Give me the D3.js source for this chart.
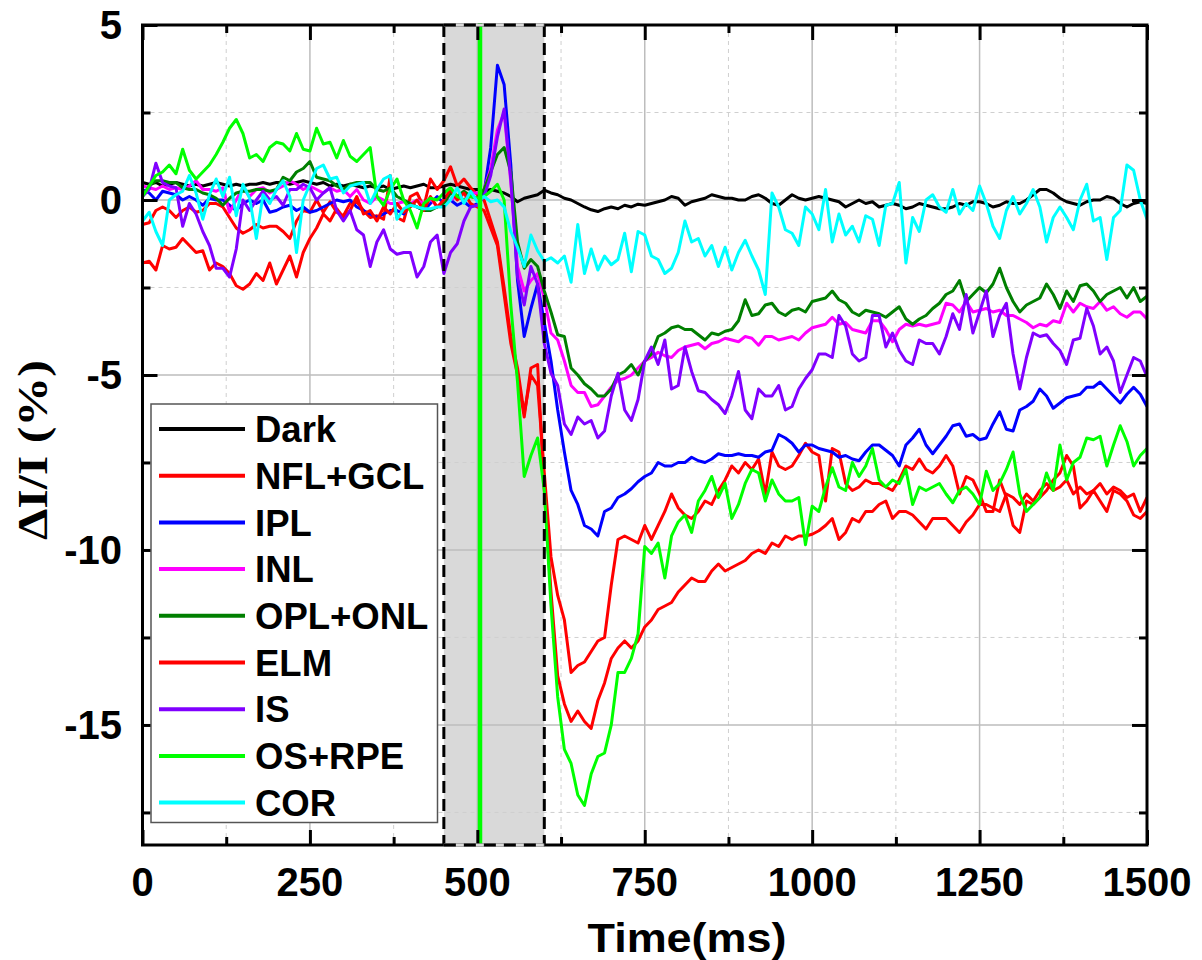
<!DOCTYPE html>
<html><head><meta charset="utf-8">
<script src="https://cdn.jsdelivr.net/npm/d3@7"></script>
<style>body{margin:0;background:#fff}</style>
</head><body><svg id="c" width="1202" height="960"></svg>
<script>
// ---------- data ----------
const timeMs = d3.range(0, 1501, 10);
const seriesNames = ["Dark","NFL+GCL","IPL","INL","OPL+ONL","ELM","IS","OS+RPE","COR"];
const dark = [0.5,0.45,0.5,0.4,0.45,0.5,0.45,0.4,0.45,0.4,
0.45,0.5,0.45,0.4,0.45,0.4,0.45,0.45,0.5,0.45,
0.5,0.5,0.45,0.5,0.55,0.5,0.45,0.5,0.4,0.45,
0.4,0.45,0.4,0.35,0.4,0.35,0.4,0.3,0.35,0.4,
0.35,0.4,0.45,0.35,0.35,0.4,0.45,0.4,0.35,0.3,
0.3,0.25,0.3,0.25,0.2,0.1,-0.05,0.05,0.1,0.15,
0.28,0.2,0.15,0.05,0.0,-0.1,-0.2,-0.28,-0.33,-0.25,
-0.2,-0.25,-0.15,-0.2,-0.12,-0.15,-0.1,-0.05,0.0,0.1,
0.05,-0.15,-0.05,0.0,0.05,0.15,0.1,0.05,0.05,0.0,
0.0,0.1,0.15,0.05,-0.1,-0.15,0.0,0.15,0.05,0.0,
0.05,0.1,0.05,0.0,-0.05,-0.2,-0.1,0.0,-0.1,-0.05,
-0.2,-0.15,-0.1,-0.15,-0.25,-0.2,-0.1,-0.15,-0.2,-0.25,
-0.25,-0.2,-0.1,-0.15,-0.05,-0.05,-0.1,-0.2,-0.15,-0.05,
-0.1,-0.1,0.0,0.15,0.3,0.3,0.2,0.05,-0.05,-0.1,
-0.15,-0.05,0.0,0.0,0.1,0.05,-0.1,-0.2,-0.1,-0.05,
-0.1];
const nflGcl = [-0.7,-0.65,-0.3,-0.2,-0.3,-0.5,-0.3,-0.2,-0.35,-0.3,
-0.1,-0.1,-0.2,-0.5,-0.8,-0.95,-0.85,-0.7,-0.8,-0.75,
-0.75,-0.9,-1.1,-0.6,-0.3,-0.35,0.0,-0.35,-0.05,-0.35,
-0.45,-0.1,-0.05,-0.3,-0.5,-0.45,-0.55,0.7,-0.5,-0.6,
0.1,0.2,-0.2,0.6,0.3,0.55,0.95,0.4,0.6,0.35,
0.15,0.0,-0.6,-1.2,-2.5,-3.9,-4.8,-6.1,-5.0,-5.3,
-7.8,-10.2,-11.3,-12.0,-13.5,-13.3,-13.2,-12.9,-12.6,-12.5,
-11.0,-9.7,-9.6,-9.7,-9.8,-9.3,-9.7,-9.3,-8.9,-8.4,
-8.8,-9.0,-9.1,-8.9,-8.6,-8.7,-8.3,-8.0,-7.6,-7.8,
-7.5,-7.7,-7.4,-8.4,-7.2,-7.6,-7.7,-7.6,-7.3,-6.95,
-7.2,-7.3,-8.6,-7.1,-7.2,-8.1,-8.3,-8.2,-8.0,-8.1,
-8.1,-8.2,-8.3,-8.0,-7.6,-7.7,-7.4,-7.7,-7.8,-7.6,
-7.3,-7.6,-8.4,-7.9,-8.0,-8.4,-8.9,-8.9,-8.0,-8.5,
-9.3,-9.5,-8.6,-8.7,-8.5,-8.3,-8.0,-7.8,-7.3,-7.6,
-8.8,-8.6,-8.3,-8.6,-8.9,-8.3,-8.4,-8.6,-9.0,-9.1,
-8.9];
const ipl = [0.3,0.2,0.0,0.25,0.2,0.15,0.0,0.1,0.0,-0.15,
0.05,0.0,0.0,-0.15,-0.3,-0.1,0.0,-0.1,0.0,-0.35,
-0.3,-0.2,-0.15,-0.3,-0.2,-0.35,-0.3,-0.2,-0.1,0.0,
-0.05,0.0,-0.2,-0.3,-0.4,-0.5,-0.4,-0.3,-0.3,-0.4,
-0.1,-0.2,-0.3,-0.1,0.1,-0.1,0.0,-0.15,-0.05,-0.2,
-0.1,0.2,1.5,3.85,3.3,1.0,-2.3,-3.9,-3.1,-2.4,
-3.5,-4.6,-6.0,-7.2,-8.3,-8.7,-9.3,-9.4,-9.6,-8.9,
-8.8,-8.5,-8.4,-8.25,-8.05,-7.9,-7.8,-7.5,-7.6,-7.6,
-7.5,-7.5,-7.35,-7.45,-7.5,-7.4,-7.25,-7.3,-7.3,-7.25,
-7.3,-7.3,-7.35,-7.2,-7.15,-6.7,-6.8,-6.95,-7.2,-7.0,
-7.0,-7.1,-7.15,-7.2,-7.35,-7.3,-7.4,-7.45,-7.2,-7.0,
-7.0,-7.15,-7.3,-7.6,-7.0,-6.8,-6.55,-7.0,-7.25,-7.0,
-6.75,-6.45,-6.4,-6.75,-6.7,-6.85,-6.8,-6.4,-6.05,-6.55,
-6.6,-6.0,-5.9,-5.75,-5.4,-5.6,-5.95,-5.8,-5.65,-5.6,
-5.55,-5.35,-5.35,-5.2,-5.4,-5.6,-5.8,-5.55,-5.35,-5.55,
-5.9];
const inl = [0.4,0.35,0.3,0.4,0.3,0.35,0.3,0.4,0.55,0.3,
0.3,0.25,0.35,-0.35,0.0,0.35,0.1,0.3,0.35,0.2,
0.3,0.4,0.55,0.45,0.3,0.4,0.3,0.2,0.35,0.25,
0.3,0.1,0.3,0.0,-0.1,0.1,0.0,-0.1,-0.1,-0.05,
-0.1,0.0,-0.1,0.05,-0.2,-0.1,0.0,0.1,0.0,0.2,
0.2,0.3,0.9,2.0,2.5,0.5,-1.9,-2.6,-2.3,-2.1,
-2.8,-3.8,-4.0,-4.6,-5.3,-5.5,-5.5,-5.9,-5.85,-5.6,
-5.35,-5.15,-5.1,-5.0,-4.8,-4.6,-4.5,-4.35,-4.45,-4.5,
-4.3,-4.2,-4.15,-4.1,-4.25,-4.1,-4.05,-3.95,-4.0,-4.05,
-3.9,-3.95,-4.15,-3.9,-3.9,-4.0,-3.95,-3.9,-4.0,-3.8,
-3.65,-3.6,-3.55,-3.35,-3.55,-3.5,-3.7,-3.75,-3.8,-3.45,
-3.45,-3.7,-4.05,-3.7,-3.55,-3.6,-3.55,-3.6,-3.55,-3.5,
-2.95,-3.0,-3.2,-2.9,-3.2,-3.15,-3.1,-3.2,-3.15,-3.3,
-3.3,-3.4,-3.5,-3.65,-3.55,-3.6,-3.45,-3.5,-2.95,-3.2,
-2.95,-3.05,-3.1,-2.9,-3.15,-3.05,-3.25,-3.35,-3.2,-3.2,
-3.4];
const oplOnl = [0.1,0.4,0.55,0.55,0.5,0.5,0.35,0.3,0.3,0.2,
0.15,0.05,-0.15,0.05,0.2,0.25,0.25,0.3,0.3,0.25,
0.3,0.65,0.55,0.8,0.9,1.1,0.65,0.6,0.55,0.4,
0.3,0.45,0.5,0.5,0.5,0.3,0.25,0.35,0.1,0.0,
-0.1,-0.2,-0.3,-0.3,-0.2,-0.1,0.2,0.1,0.25,0.1,
0.05,0.3,0.8,1.3,1.5,0.8,-1.2,-1.95,-1.7,-1.9,
-2.6,-3.2,-3.85,-3.9,-4.8,-5.0,-5.25,-5.4,-5.6,-5.6,
-5.4,-5.0,-4.9,-4.7,-5.0,-4.6,-4.4,-3.9,-3.8,-3.65,
-3.6,-3.7,-3.7,-3.85,-4.0,-3.8,-3.85,-3.75,-3.7,-3.45,
-2.85,-3.3,-3.25,-3.0,-2.95,-3.2,-3.3,-3.15,-3.1,-3.2,
-2.9,-2.85,-2.8,-2.6,-2.85,-2.95,-3.2,-3.3,-3.15,-3.2,
-3.25,-3.35,-3.2,-3.05,-3.4,-3.55,-3.4,-3.3,-3.1,-2.95,
-2.7,-2.6,-2.3,-2.9,-2.7,-2.5,-2.65,-2.4,-1.95,-2.5,
-2.9,-3.2,-3.0,-2.9,-2.8,-2.4,-2.7,-3.1,-2.6,-2.9,
-2.45,-2.4,-2.6,-2.9,-2.7,-2.6,-2.5,-2.8,-2.5,-2.9,
-2.75];
const elm = [-1.8,-1.75,-2.0,-1.3,-1.4,-1.35,-1.1,-1.3,-1.5,-1.45,
-2.0,-1.8,-1.9,-2.1,-2.45,-2.55,-2.4,-2.1,-2.3,-1.8,
-2.4,-2.0,-1.6,-2.2,-1.5,-1.1,-0.8,-0.4,-0.6,-0.25,
-0.5,-0.3,0.1,-0.4,-0.3,-0.6,-0.2,-0.4,-0.1,-0.35,
-0.2,0.0,-0.3,0.1,-0.2,0.0,0.3,0.0,0.2,-0.1,
-0.2,-0.3,-0.8,-1.3,-2.7,-4.1,-5.0,-6.2,-4.8,-4.7,
-8.3,-11.2,-13.6,-14.4,-14.9,-14.6,-14.9,-15.1,-14.3,-13.8,
-13.1,-12.8,-12.6,-12.8,-12.6,-12.2,-12.0,-11.7,-11.6,-11.5,
-11.2,-11.0,-10.8,-10.9,-10.9,-10.6,-10.4,-10.6,-10.5,-10.4,
-10.3,-10.1,-10.0,-10.1,-9.8,-9.9,-9.6,-9.7,-9.6,-9.6,
-9.55,-9.45,-9.3,-9.1,-9.7,-9.5,-9.1,-9.2,-8.9,-8.9,
-8.7,-8.6,-9.1,-8.9,-8.9,-9.0,-9.2,-9.4,-9.1,-9.1,
-9.1,-9.3,-9.5,-9.2,-9.0,-8.7,-8.7,-8.8,-8.9,-8.4,
-8.5,-8.7,-8.4,-8.6,-8.3,-8.1,-8.3,-8.2,-8.0,-8.4,
-8.2,-8.4,-8.3,-8.1,-8.4,-8.2,-8.3,-8.5,-8.4,-8.9,
-8.5];
const is = [0.1,0.3,1.05,0.5,0.4,0.35,-0.75,-0.1,-0.4,-0.9,
-1.3,-1.95,-1.95,-2.2,-1.4,0.0,-0.3,0.0,0.25,0.0,
0.1,-0.15,0.3,0.3,0.45,0.35,0.0,0.2,0.35,-0.3,
-0.6,-0.3,-0.85,-1.0,-1.9,-1.2,-0.85,-1.4,-1.55,-1.5,
-1.5,-2.2,-1.9,-1.2,-1.0,-2.1,-1.5,-1.25,-0.6,-0.2,
-0.15,0.1,0.7,1.8,2.6,0.6,-2.2,-3.0,-1.9,-2.4,
-4.1,-4.95,-5.3,-6.4,-6.7,-6.2,-6.4,-6.3,-6.8,-6.6,
-5.6,-4.95,-6.0,-6.3,-5.7,-4.6,-4.2,-4.7,-4.0,-5.4,
-5.3,-4.2,-4.9,-5.45,-5.5,-5.7,-5.85,-6.1,-5.6,-4.9,
-6.0,-6.25,-5.4,-5.6,-5.6,-5.3,-6.0,-5.9,-5.4,-5.1,
-4.85,-4.4,-4.4,-4.5,-3.3,-3.6,-4.4,-4.6,-4.5,-3.3,
-3.3,-4.2,-3.8,-4.3,-4.6,-4.7,-4.0,-4.1,-4.1,-4.4,
-3.9,-3.25,-3.7,-2.7,-3.8,-3.2,-2.6,-3.9,-3.3,-2.95,
-4.4,-5.4,-4.5,-3.8,-3.9,-3.85,-4.1,-4.3,-4.7,-4.0,
-3.95,-3.1,-3.6,-4.4,-4.2,-4.6,-5.5,-5.0,-4.5,-4.6,
-5.05];
const osRpe = [0.1,0.4,0.7,0.8,1.0,0.75,1.45,0.85,0.6,0.8,
1.0,1.3,1.65,2.05,2.3,1.9,1.2,1.3,1.1,1.5,
1.65,1.6,1.4,1.9,1.45,1.4,2.05,1.6,1.65,1.2,
1.7,1.25,1.1,1.3,1.5,0.1,-0.15,0.3,0.6,0.0,
-0.3,-0.8,-0.1,0.05,0.0,0.2,0.35,0.1,0.0,0.1,
0.05,0.1,0.25,0.45,0.0,-3.0,-5.2,-7.9,-7.3,-6.8,
-8.3,-11.6,-14.2,-15.7,-16.1,-17.0,-17.3,-16.4,-15.9,-15.8,
-15.0,-13.5,-13.5,-13.1,-12.4,-9.9,-10.1,-9.8,-10.8,-9.6,
-9.2,-9.0,-9.5,-8.6,-8.3,-7.9,-8.5,-8.1,-9.1,-8.7,
-8.1,-7.7,-7.8,-8.6,-8.0,-8.4,-8.6,-8.6,-8.5,-9.85,
-8.75,-8.9,-8.2,-7.65,-8.2,-8.3,-7.5,-7.9,-7.6,-7.1,
-8.0,-8.2,-8.0,-8.1,-7.7,-8.7,-8.2,-8.3,-8.2,-8.1,
-8.4,-8.65,-8.3,-8.2,-8.4,-8.7,-7.75,-8.3,-8.1,-7.7,
-7.2,-8.4,-8.9,-8.7,-8.5,-7.8,-8.3,-7.0,-8.0,-7.5,
-7.35,-6.8,-6.85,-6.75,-7.6,-7.0,-6.45,-6.9,-7.6,-7.3,
-7.1];
const cor = [-0.6,-0.35,-0.9,-1.3,0.0,0.15,0.25,0.7,0.2,-0.55,
0.15,0.6,0.1,0.65,-0.45,0.45,0.05,-1.1,0.15,-0.1,
0.3,0.55,0.1,-1.5,0.0,0.45,0.9,1.0,0.6,0.65,
0.2,0.4,0.45,0.5,-0.1,0.3,0.6,0.7,-0.55,-0.25,
-0.15,-0.2,-0.25,-0.25,-0.2,-0.2,0.0,0.35,-0.1,0.25,
-0.05,0.1,-0.05,0.0,-0.2,-0.9,-1.35,-1.9,-1.0,-1.45,
-1.75,-1.65,-1.8,-1.6,-2.35,-0.7,-2.1,-1.4,-2.0,-1.6,
-1.85,-1.7,-0.95,-2.05,-0.9,-1.0,-1.6,-1.7,-2.1,-1.95,
-1.5,-0.6,-1.2,-1.1,-1.6,-1.3,-1.9,-1.35,-2.0,-1.5,
-1.15,-1.6,-2.0,-2.7,0.2,-0.2,-0.85,-0.95,-1.3,-0.2,
-0.4,-0.85,0.3,-1.2,-0.4,-1.0,-0.75,-1.2,-0.45,-0.55,
-1.3,-0.15,-0.1,0.5,-1.8,-0.5,-0.9,0.0,0.15,-0.2,
-0.35,0.3,-0.4,-0.1,-0.3,0.4,-0.1,-0.75,-1.1,-0.3,
0.1,-0.4,-0.1,0.3,-0.2,-1.2,-0.5,-0.2,-0.5,-0.85,
0.0,0.45,-0.6,-0.5,-1.7,-0.5,-0.3,1.0,0.85,0.0,
-0.55];
const xTickLabels = [0, 250, 500, 750, 1000, 1250, 1500];
const yTickLabels = [5, 0, -5, -10, -15];
const xMinorTicks = [125, 375, 625, 875, 1125, 1375];
const yMinorTicks = [2.5, -2.5, -7.5, -12.5, -17.5];
const stimWindow = [450, 600];
const stimOnset = 504;

// ---------- styles ----------
const colors = {"Dark":"#000000","NFL+GCL":"#ff0000","IPL":"#0000ff","INL":"#ff00ff",
  "OPL+ONL":"#007f00","ELM":"#ff0000","IS":"#8000ff","OS+RPE":"#00ff00","COR":"#00ffff"};
const values = [dark, nflGcl, ipl, inl, oplOnl, elm, is, osRpe, cor];

const svg = d3.select("#c");
const L = 142.5, R = 1147, T = 25, B = 845;
const x = d3.scaleLinear().domain([0, 1500]).range([L, R]);
const y = d3.scaleLinear().domain([-18.43, 5]).range([B, T]);
const font = "'Liberation Sans', Arial, sans-serif";

// shaded stimulus window
svg.append("rect").attr("x", x(stimWindow[0])).attr("y", T)
  .attr("width", x(stimWindow[1]) - x(stimWindow[0])).attr("height", B - T)
  .attr("fill", "#d9d9d9");

// grid
const g = svg.append("g");
xMinorTicks.forEach(v => g.append("line").attr("x1", x(v)).attr("x2", x(v)).attr("y1", T).attr("y2", B)
  .attr("stroke", "#cfcfcf").attr("stroke-width", 1).attr("stroke-dasharray", "4,4"));
yMinorTicks.forEach(v => g.append("line").attr("y1", y(v)).attr("y2", y(v)).attr("x1", L).attr("x2", R)
  .attr("stroke", "#cfcfcf").attr("stroke-width", 1).attr("stroke-dasharray", "4,4"));
xTickLabels.slice(1, -1).forEach(v => g.append("line").attr("x1", x(v)).attr("x2", x(v)).attr("y1", T).attr("y2", B)
  .attr("stroke", "#bdbdbd").attr("stroke-width", 1.5));
yTickLabels.filter(v => v < 5).forEach(v => g.append("line").attr("y1", y(v)).attr("y2", y(v)).attr("x1", L).attr("x2", R)
  .attr("stroke", "#bdbdbd").attr("stroke-width", 1.5));

// data lines
const line = d3.line().x((d, i) => x(timeMs[i])).y(d => y(d));
svg.append("clipPath").attr("id", "pc").append("rect")
  .attr("x", L).attr("y", T).attr("width", R - L).attr("height", B - T);
const lg = svg.append("g").attr("clip-path", "url(#pc)");
seriesNames.forEach((n, k) => {
  lg.append("path").datum(values[k]).attr("d", line)
    .attr("fill", "none").attr("stroke", colors[n]).attr("stroke-width", 3)
    .attr("stroke-linejoin", "round");
});

// stimulus onset line
svg.append("line").attr("x1", x(stimOnset)).attr("x2", x(stimOnset)).attr("y1", T - 2).attr("y2", B)
  .attr("stroke", "#00ff00").attr("stroke-width", 4.5);

// frame + ticks
const axG = svg.append("g");
axG.append("rect").attr("x", L).attr("y", T).attr("width", R - L).attr("height", B - T)
  .attr("fill", "none").attr("stroke", "#000").attr("stroke-width", 3);
const xAxB = d3.axisBottom(x).tickValues(xTickLabels).tickSize(-15).tickFormat("");
const xAxT = d3.axisTop(x).tickValues(xTickLabels).tickSize(-15).tickFormat("");
const yAxL = d3.axisLeft(y).tickValues(yTickLabels).tickSize(-15).tickFormat("");
const yAxR = d3.axisRight(y).tickValues(yTickLabels).tickSize(-15).tickFormat("");
const xmB = d3.axisBottom(x).tickValues(xMinorTicks).tickSize(-8).tickFormat("");
const xmT = d3.axisTop(x).tickValues(xMinorTicks).tickSize(-8).tickFormat("");
const ymL = d3.axisLeft(y).tickValues(yMinorTicks).tickSize(-8).tickFormat("");
const ymR = d3.axisRight(y).tickValues(yMinorTicks).tickSize(-8).tickFormat("");
[[xAxB, `translate(0,${B})`], [xmB, `translate(0,${B})`], [xAxT, `translate(0,${T})`], [xmT, `translate(0,${T})`],
 [yAxL, `translate(${L},0)`], [ymL, `translate(${L},0)`], [yAxR, `translate(${R},0)`], [ymR, `translate(${R},0)`]]
 .forEach(([a, tr]) => {
   const gg = axG.append("g").attr("transform", tr).call(a);
   gg.select(".domain").remove();
   gg.selectAll(".tick line").attr("stroke", "#000").attr("stroke-width", 3);
 });

// dashed window borders
[stimWindow[0], stimWindow[1]].forEach(v => svg.append("line").attr("x1", x(v)).attr("x2", x(v))
  .attr("y1", T).attr("y2", B).attr("stroke", "#000").attr("stroke-width", 3).attr("stroke-dasharray", "12,6"));
[T, B].forEach(yy => {
  svg.append("line").attr("x1", x(stimWindow[0])).attr("x2", x(stimWindow[1])).attr("y1", yy).attr("y2", yy)
    .attr("stroke", "#d9d9d9").attr("stroke-width", 3);
  svg.append("line").attr("x1", x(stimWindow[0])).attr("x2", x(stimWindow[1])).attr("y1", yy).attr("y2", yy)
    .attr("stroke", "#000").attr("stroke-width", 3).attr("stroke-dasharray", "12,8");
});

// tick labels
xTickLabels.forEach(v => svg.append("text").attr("x", x(v)).attr("y", 896)
  .attr("text-anchor", "middle").attr("font-family", font).attr("font-weight", "bold")
  .attr("font-size", 40).text(v));
yTickLabels.forEach(v => svg.append("text").attr("x", 122).attr("y", y(v)).attr("dy", "0.36em")
  .attr("text-anchor", "end").attr("font-family", font).attr("font-weight", "bold")
  .attr("font-size", 40).text(v));

// axis titles
svg.append("text").attr("x", 687).attr("y", 952).attr("text-anchor", "middle")
  .attr("font-family", font).attr("font-weight", "bold").attr("font-size", 40)
  .attr("textLength", 199).attr("lengthAdjust", "spacingAndGlyphs").text("Time(ms)");
svg.append("text").attr("transform", "translate(47,450) rotate(-90)").attr("text-anchor", "middle")
  .attr("font-family", "'Liberation Serif', 'Times New Roman', serif").attr("font-weight", "bold")
  .attr("font-size", 42).attr("textLength", 180).attr("lengthAdjust", "spacingAndGlyphs").text("ΔI/I (%)");

// legend
const leg = svg.append("g");
leg.append("rect").attr("x", 151).attr("y", 404).attr("width", 286.5).attr("height", 418.5)
  .attr("fill", "#fff").attr("stroke", "#555").attr("stroke-width", 1.5);
seriesNames.forEach((n, i) => {
  const yy = 429 + i * 46.7;
  leg.append("line").attr("x1", 159).attr("x2", 245).attr("y1", yy).attr("y2", yy)
    .attr("stroke", colors[n]).attr("stroke-width", 4);
  leg.append("text").attr("x", 255).attr("y", yy).attr("dy", "0.36em")
    .attr("font-family", font).attr("font-weight", "bold").attr("font-size", 36.5).text(n);
});
</script></body></html>
